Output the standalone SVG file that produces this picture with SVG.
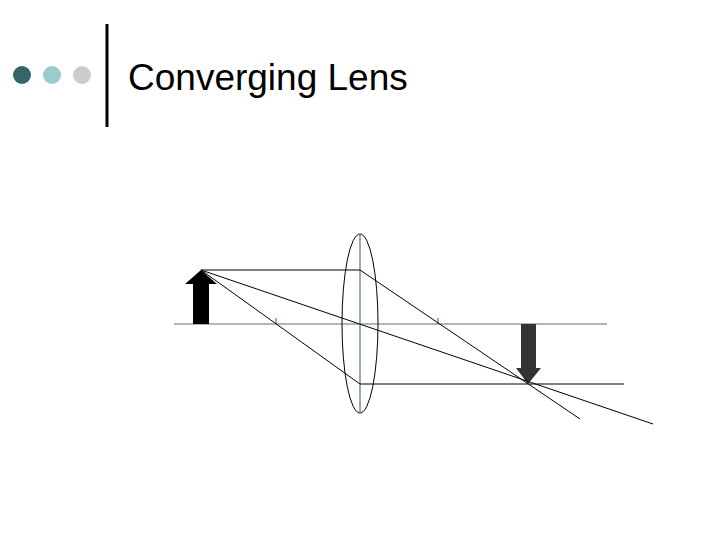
<svg xmlns="http://www.w3.org/2000/svg" width="720" height="540" viewBox="0 0 720 540">
<style>
.ray{stroke:#000;stroke-width:1;fill:none}
.axis{stroke:#5a7373;stroke-width:1.2;fill:none}
</style>
<rect width="720" height="540" fill="#fff"/>
<g id="header">
<circle cx="22" cy="75" r="9" fill="#336666"/>
<circle cx="52" cy="75" r="9" fill="#99cccc"/>
<circle cx="82" cy="75" r="9" fill="#cccccc"/>
<rect x="105.5" y="24" width="3" height="103" fill="#000"/>
<text x="128" y="90" font-family="Liberation Sans, Arial, sans-serif" font-size="37" fill="#000">Converging Lens</text>
</g>
<g id="axis">
<line class="axis" x1="174" y1="324" x2="607" y2="324"/>
<line class="axis" x1="276" y1="318" x2="276" y2="324"/>
<line class="axis" x1="438" y1="318" x2="438" y2="324"/>
</g>
<g id="lens">
<ellipse cx="360" cy="323.5" rx="18" ry="89.5" fill="none" stroke="#000" stroke-width="1"/>
<line class="axis" x1="360" y1="234" x2="360" y2="413"/>
</g>
<g id="object">
<polygon points="193,324 209,324 209,284 217,284 201,270 185,284 193,284" fill="#000"/>
</g>
<g id="image">
<polygon points="521,324 536,324 536,368 541,368 528,384 516,368 521,368" fill="#333"/>
</g>
<g id="connectors">
<polyline class="ray" points="201,270 360,270 580,419"/>
<line class="ray" x1="201" y1="270" x2="653" y2="424"/>
<polyline class="ray" points="201,270 360,384 624,384"/>
</g>
</svg>
